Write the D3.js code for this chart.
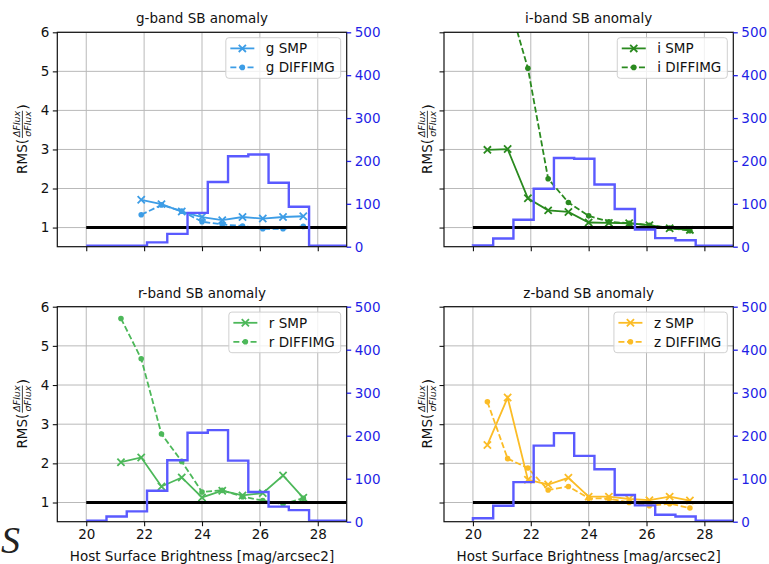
<!DOCTYPE html>
<html><head><meta charset="utf-8">
<script src="https://cdn.jsdelivr.net/npm/d3@7"></script>
<style>
body{margin:0;background:#fff;}
svg{display:block;font-family:"DejaVu Sans",sans-serif;}
</style></head>
<body><svg id="chart" width="769" height="564"></svg>
<script>
// ---- data ----
const xCenters = [20.5, 21.2, 21.9, 22.6, 23.3, 24.0, 24.7, 25.4, 26.1, 26.8, 27.5];
const binEdges = [20, 20.7, 21.4, 22.1, 22.8, 23.5, 24.2, 24.9, 25.6, 26.3, 27.0, 27.7, 28.4, 29.1];
const xTicks = [20, 22, 24, 26, 28];
const yTicks = [1, 2, 3, 4, 5, 6];
const rightTicks = [0, 100, 200, 300, 400, 500];

const histG = [0, 0, 2, 10, 30, 79, 151, 211, 215, 149, 93, 0, 0];
const histI = [3, 19, 63, 135, 207, 205, 145, 88, 40, 20, 15, 0, 0];
const histR = [0, 12, 24, 72, 143, 207, 213, 142, 69, 35, 27, 0, 0];
const histZ = [8, 37, 92, 177, 206, 153, 122, 62, 38, 16, 12, 0, 0];

const gSMP  = [null, null, 1.71, 1.60, 1.41, 1.27, 1.19, 1.27, 1.23, 1.27, 1.29];
const gDIFF = [null, null, 1.33, 1.58, 1.42, 1.15, 1.08, 1.04, 0.97, 0.97, 1.03];
const iSMP  = [2.99, 3.01, 1.75, 1.44, 1.40, 1.13, 1.12, 1.11, 1.06, 0.98, 0.94];
const iDIFF = [null, 6.87, 5.08, 2.25, 1.64, 1.30, 1.15, 1.11, 1.06, 0.99, 0.92];
const rSMP  = [null, 2.03, 2.15, 1.41, 1.64, 1.13, 1.30, 1.18, 1.24, 1.69, 1.12];
const rDIFF = [null, 5.70, 4.67, 2.75, 2.05, 1.27, 1.31, 1.15, 1.05, 0.96, 1.11];
const zSMP  = [2.47, 3.68, 1.58, 1.46, 1.63, 1.15, 1.15, 1.09, 1.06, 1.15, 1.05];
const zDIFF = [3.57, 2.12, 1.88, 1.32, 1.41, 1.11, 1.10, 1.00, 0.92, 0.97, 0.86];

const bands = ["g", "i", "r", "z"];
const bandColors = ["#3d9de6", "#2a8a1f", "#4db85a", "#fbbc26"];
const bandSMP = [gSMP, iSMP, rSMP, zSMP];
const bandDIFF = [gDIFF, iDIFF, rDIFF, zDIFF];
const bandHist = [histG, histI, histR, histZ];

// ---- layout ----
const svg = d3.select("#chart");
const FS = 13.5;
const LW = 1.8;
const DASH = "6,2.6";
const panels = [
  {x0: 57.3, x1: 346.7, y0: 32.3, y1: 246.7, showX: false, showY: true, ylabX: 22},
  {x0: 444, x1: 733.3, y0: 32.3, y1: 246.7, showX: false, showY: false, ylabX: 427},
  {x0: 57.3, x1: 346.7, y0: 306.7, y1: 521.7, showX: true, showY: true, ylabX: 22},
  {x0: 444, x1: 733.3, y0: 306.7, y1: 521.7, showX: true, showY: false, ylabX: 427}
];

panels.forEach((p, k) => {
  const band = bands[k], color = bandColors[k];
  const x = d3.scaleLinear().domain([19, 29]).range([p.x0, p.x1]);
  const y = d3.scaleLinear().domain([0.51, 6]).range([p.y1, p.y0]);
  const y2 = d3.scaleLinear().domain([0, 500]).range([p.y1, p.y0]);
  const g = svg.append("g");
  const clipId = "clip" + k;
  g.append("clipPath").attr("id", clipId).append("rect")
    .attr("x", p.x0).attr("y", p.y0).attr("width", p.x1 - p.x0).attr("height", p.y1 - p.y0);

  // grid
  const grid = g.append("g").attr("stroke", "#b9b9b9").attr("stroke-width", 1);
  xTicks.forEach(t => grid.append("line").attr("x1", x(t)).attr("x2", x(t)).attr("y1", p.y0).attr("y2", p.y1));
  yTicks.forEach(t => grid.append("line").attr("x1", p.x0).attr("x2", p.x1).attr("y1", y(t)).attr("y2", y(t)));

  const plot = g.append("g").attr("clip-path", `url(#${clipId})`);

  const pts = arr => arr.map((v, i) => ({x: xCenters[i], v})).filter(d => d.v !== null);
  const line = d3.line().x(d => x(d.x)).y(d => y(d.v));

  // SMP solid with x markers
  const smp = pts(bandSMP[k]);
  plot.append("path").attr("d", line(smp)).attr("fill", "none").attr("stroke", color).attr("stroke-width", LW);
  smp.forEach(d => {
    const cx = x(d.x), cy = y(d.v), s = 3.6;
    plot.append("path").attr("d", `M${cx-s},${cy-s}L${cx+s},${cy+s}M${cx-s},${cy+s}L${cx+s},${cy-s}`)
      .attr("stroke", color).attr("stroke-width", LW);
  });
  // DIFFIMG dashed with dots
  const dif = pts(bandDIFF[k]);
  plot.append("path").attr("d", line(dif)).attr("fill", "none").attr("stroke", color).attr("stroke-width", LW)
    .attr("stroke-dasharray", DASH);
  dif.forEach(d => plot.append("circle").attr("cx", x(d.x)).attr("cy", y(d.v)).attr("r", 2.8).attr("fill", color));

  // reference line at 1
  plot.append("line").attr("x1", x(20)).attr("x2", x(29)).attr("y1", y(1)).attr("y2", y(1))
    .attr("stroke", "#000").attr("stroke-width", 3);

  // histogram step (twin axis)
  const h = bandHist[k];
  const stepPts = [[binEdges[0], 0]];
  h.forEach((c, i) => { stepPts.push([binEdges[i], c]); stepPts.push([binEdges[i + 1], c]); });
  stepPts.push([binEdges[binEdges.length - 1], 0]);
  plot.append("path")
    .attr("d", d3.line().x(d => x(d[0])).y(d => Math.min(y2(d[1]), p.y1 - 1))(stepPts))
    .attr("fill", "none").attr("stroke", "rgb(90,90,255)").attr("stroke-width", 2.4);

  // spines
  g.append("rect").attr("x", p.x0).attr("y", p.y0).attr("width", p.x1 - p.x0).attr("height", p.y1 - p.y0)
    .attr("fill", "none").attr("stroke", "#111").attr("stroke-width", 1.2);

  // x axis
  const xa = d3.axisBottom(x).tickValues(xTicks).tickSize(4.5).tickPadding(3.5)
    .tickFormat(p.showX ? d3.format("d") : () => "");
  const gx = g.append("g").attr("transform", `translate(0,${p.y1})`).call(xa);
  gx.select(".domain").remove();
  gx.selectAll("line").attr("stroke", "#111").attr("stroke-width", 1.1);
  gx.selectAll("text").attr("font-size", FS).attr("font-family", "DejaVu Sans").attr("fill", "#111");

  // left axis
  const ya = d3.axisLeft(y).tickValues(yTicks).tickSize(4.5).tickPadding(3.5)
    .tickFormat(p.showY ? d3.format("d") : () => "");
  const gy = g.append("g").attr("transform", `translate(${p.x0},0)`).call(ya);
  gy.select(".domain").remove();
  gy.selectAll("line").attr("stroke", "#111").attr("stroke-width", 1.1);
  gy.selectAll("text").attr("font-size", FS).attr("font-family", "DejaVu Sans").attr("fill", "#111");

  // right axis
  const ra = d3.axisRight(y2).tickValues(rightTicks).tickSize(4.5).tickPadding(3.5).tickFormat(d3.format("d"));
  const gr = g.append("g").attr("transform", `translate(${p.x1},0)`).call(ra);
  gr.select(".domain").remove();
  gr.selectAll("line").attr("stroke", "#2222ee").attr("stroke-width", 1.3);
  gr.selectAll("text").attr("font-size", FS).attr("font-family", "DejaVu Sans").attr("fill", "#1f1fe6");

  // title
  g.append("text").attr("x", (p.x0 + p.x1) / 2).attr("y", p.y0 - 9).attr("text-anchor", "middle")
    .attr("font-size", FS).attr("fill", "#111").text(band + "-band SB anomaly");

  // x label
  if (p.showX) {
    g.append("text").attr("x", (p.x0 + p.x1) / 2).attr("y", p.y1 + 39).attr("text-anchor", "middle")
      .attr("font-size", FS).attr("fill", "#111").text("Host Surface Brightness [mag/arcsec2]");
  }

  // y label: RMS(ΔFlux/σFlux)
  const cy = (p.y0 + p.y1) / 2;
  const lab = g.append("g").attr("transform", `translate(${p.ylabX + 5},${cy}) rotate(-90)`);
  const t1 = lab.append("text").attr("font-size", FS).attr("fill", "#111").text("RMS(");
  const num = lab.append("text").attr("font-size", 9.5).attr("font-style", "italic").attr("fill", "#111").text("ΔFlux");
  const den = lab.append("text").attr("font-size", 9.5).attr("font-style", "italic").attr("fill", "#111").text("σFlux");
  const t2 = lab.append("text").attr("font-size", FS + 1).attr("fill", "#111").text(")");
  const w1 = t1.node().getComputedTextLength();
  const wn = num.node().getComputedTextLength();
  const wd = den.node().getComputedTextLength();
  const wf = Math.max(wn, wd) + 2;
  const w2 = t2.node().getComputedTextLength();
  const total = w1 + wf + w2;
  let sx = -total / 2;
  t1.attr("x", sx).attr("y", 0);
  num.attr("x", sx + w1 + 1 + (wf - wn) / 2).attr("y", -7.5);
  den.attr("x", sx + w1 + 1 + (wf - wd) / 2).attr("y", 3.5);
  lab.append("line").attr("x1", sx + w1 + 1).attr("x2", sx + w1 + wf).attr("y1", -4.6).attr("y2", -4.6)
    .attr("stroke", "#111").attr("stroke-width", 0.8);
  t2.attr("x", sx + w1 + wf + 1).attr("y", 0.5);

  // legend
  const leg = g.append("g");
  const items = [{name: band + " SMP", dash: null, marker: "x"}, {name: band + " DIFFIMG", dash: DASH, marker: "o"}];
  const texts = items.map((it, i) => leg.append("text").attr("font-size", FS).attr("fill", "#111").text(it.name));
  const tw = d3.max(texts, t => t.node().getComputedTextLength());
  const bw = 40 + tw + 6, bh = 40.6;
  const bx = p.x1 - 6 - bw, by = p.y0 + 5.4;
  leg.insert("rect", "text").attr("x", bx).attr("y", by).attr("width", bw).attr("height", bh).attr("rx", 3)
    .attr("fill", "rgba(255,255,255,0.8)").attr("stroke", "#d0d0d0").attr("stroke-width", 1);
  items.forEach((it, i) => {
    const ry = by + 10.7 + i * 19;
    texts[i].attr("x", bx + 40).attr("y", ry + 5);
    const l = leg.append("line").attr("x1", bx + 4.5).attr("x2", bx + 28.5).attr("y1", ry).attr("y2", ry)
      .attr("stroke", color).attr("stroke-width", LW);
    if (it.dash) l.attr("stroke-dasharray", it.dash);
    const mx = bx + 16.5;
    if (it.marker === "x") {
      const s = 3.6;
      leg.append("path").attr("d", `M${mx-s},${ry-s}L${mx+s},${ry+s}M${mx-s},${ry+s}L${mx+s},${ry-s}`)
        .attr("stroke", color).attr("stroke-width", LW);
    } else {
      leg.append("circle").attr("cx", mx).attr("cy", ry).attr("r", 2.8).attr("fill", color);
    }
  });
});

// stray glyph from neighbouring figure
svg.append("text").attr("x", 1).attr("y", 553).attr("font-family", "Liberation Serif, serif")
  .attr("font-style", "italic").attr("font-size", 38).attr("fill", "#222").text("S");
</script>
</body></html>
